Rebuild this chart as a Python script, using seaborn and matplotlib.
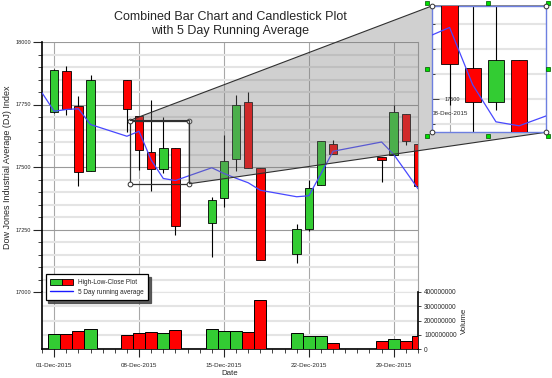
import numpy as np
import pandas as pd
import seaborn as sns
import matplotlib
matplotlib.use("Agg")
import matplotlib.pyplot as plt
import matplotlib.dates as mdates
from matplotlib.patches import Patch, Polygon, Rectangle
from matplotlib.lines import Line2D
from matplotlib.legend_handler import HandlerTuple
from matplotlib.ticker import MultipleLocator, FuncFormatter

# trading days, daily OHLC and volume
DATES = ["2015-12-01", "2015-12-02", "2015-12-03", "2015-12-04",
         "2015-12-07", "2015-12-08", "2015-12-09", "2015-12-10", "2015-12-11",
         "2015-12-14", "2015-12-15", "2015-12-16", "2015-12-17", "2015-12-18",
         "2015-12-21", "2015-12-22", "2015-12-23", "2015-12-24",
         "2015-12-28", "2015-12-29", "2015-12-30", "2015-12-31"]
OPEN = [17720, 17885, 17743, 17486, 17847, 17706, 17561, 17494, 17577,
        17277, 17377, 17533, 17759, 17497, 17154, 17254, 17427, 17594,
        17539, 17550, 17714, 17593]
HIGH = [17893, 17905, 17783, 17869, 17847, 17706, 17770, 17699, 17577,
        17381, 17630, 17790, 17799, 17497, 17274, 17450, 17606, 17610,
        17539, 17750, 17714, 17593]
LOW = [17718, 17710, 17426, 17486, 17639, 17487, 17403, 17477, 17230,
       17141, 17340, 17483, 17497, 17130, 17118, 17246, 17427, 17554,
       17439, 17550, 17587, 17426]
CLOSE = [17889, 17734, 17479, 17847, 17732, 17570, 17494, 17577, 17266,
         17370, 17526, 17750, 17497, 17130, 17253, 17417, 17606, 17554,
         17527, 17720, 17603, 17426]
VOLUME = [104e6, 104e6, 128e6, 137e6, 99e6, 113e6, 120e6, 109e6, 135e6,
          142e6, 123e6, 123e6, 116e6, 345e6, 113e6, 90e6, 90e6, 40e6,
          57e6, 69e6, 57e6, 92e6]

# 5 day running average
AVG_DATES = ["2015-11-30"] + DATES
AVG = [17797, 17723, 17730, 17733, 17670, 17623, 17643, 17528, 17454, 17446,
       17497, 17474, 17455, 17437, 17407, 17381, 17385, 17473, 17563,
       17600, 17550, 17482, 17413]

# zoomed window
ZOOM_X = ("2015-12-07 05:30", "2015-12-12 03:30")
ZOOM_Y = (17433, 17686)

GREEN = "#33cc33"
RED = "#ff0000"
BLUE = "#4848ff"
W, H = 552, 378

sns.set_style("white")
plt.rcParams["font.family"] = ["Liberation Sans", "DejaVu Sans"]

df = pd.DataFrame({"date": pd.to_datetime(DATES), "open": OPEN, "high": HIGH,
                   "low": LOW, "close": CLOSE, "volume": VOLUME})
df["x"] = mdates.date2num(df["date"])
df["up"] = df["close"] >= df["open"]
df["color"] = np.where(df["up"], GREEN, RED)
avg = pd.DataFrame({"x": mdates.date2num(pd.to_datetime(AVG_DATES)), "avg": AVG})


def draw_candles(ax):
    lo = np.minimum(df["open"], df["close"])
    hi = np.maximum(df["open"], df["close"])
    ax.vlines(df["x"], df["low"], df["high"], color="black", lw=0.8, zorder=2)
    ax.bar(df["x"], hi - lo, bottom=lo, width=0.7, color=df["color"],
           edgecolor="black", lw=0.6, zorder=3)
    sns.lineplot(data=avg, x="x", y="avg", ax=ax, color=BLUE, lw=0.9,
                 zorder=4, legend=False)


fig = plt.figure(figsize=(W / 100, H / 100), dpi=100)
ax = fig.add_axes([42 / W, 1 - 292 / H, 376 / W, 250 / H])
vax = fig.add_axes([42 / W, 1 - 349 / H, 376 / W, 57 / H], sharex=ax)

draw_candles(ax)
vax.bar(df["x"], df["volume"], width=1.0, color=df["color"],
        edgecolor="black", lw=0.7, zorder=3)

x0 = mdates.date2num(pd.Timestamp("2015-11-30"))
x1 = mdates.date2num(pd.Timestamp("2015-12-31"))
ax.set_xlim(x0, x1)
ax.set_ylim(17000, 18000)
vax.set_ylim(0, 4e8)

# price axis
ax.yaxis.set_major_locator(MultipleLocator(250))
ax.yaxis.set_minor_locator(MultipleLocator(50))
ax.set_axisbelow(True)
ax.grid(axis="y", which="minor", color="#e4e4e4", lw=1.5)
ax.grid(axis="y", which="major", color="#9a9a9a", lw=0.8)
ax.grid(axis="x", which="major", color="#a8a8a8", lw=0.8)
ax.tick_params(axis="y", which="major", length=6.5, width=0.8, pad=1.2,
               labelsize=4, left=True)
ax.tick_params(axis="y", which="minor", length=2.9, width=0.6, left=True)
ax.tick_params(axis="x", which="both", bottom=False, labelbottom=False)
for s in ["top", "bottom"]:
    ax.spines[s].set_visible(False)
ax.spines["right"].set_color("#a0a0a0")
ax.spines["right"].set_linewidth(0.8)
ax.spines["left"].set_color("black")
ax.spines["left"].set_linewidth(1.2)
ax.set_xlabel("")
ax.set_ylabel("Dow Jones Industrial Average (DJ) Index", fontsize=6.5, labelpad=3)

# volume axis
vax.xaxis.set_major_locator(mdates.WeekdayLocator(byweekday=mdates.TU))
vax.xaxis.set_minor_locator(mdates.DayLocator())
vax.xaxis.set_major_formatter(mdates.DateFormatter("%d-%b-%Y"))
vax.yaxis.tick_right()
vax.yaxis.set_label_position("right")
vax.yaxis.set_major_locator(MultipleLocator(1e8))
vax.yaxis.set_major_formatter(FuncFormatter(lambda v, p: f"{v:.0f}"))
vax.set_axisbelow(True)
vax.grid(axis="y", which="major", color="#e4e4e4", lw=1.5)
vax.grid(axis="x", which="major", color="#a8a8a8", lw=0.8)
vax.tick_params(axis="x", which="major", length=5.5, width=0.8, pad=4.5,
                labelsize=4.5, bottom=True)
vax.tick_params(axis="x", which="minor", length=3.1, width=0.6, bottom=True)
vax.tick_params(axis="y", length=2.4, width=0.6, pad=2, labelsize=4.7,
                right=True, left=False)
vax.spines["top"].set_visible(False)
for s in ["left", "bottom", "right"]:
    vax.spines[s].set_color("black")
    vax.spines[s].set_linewidth(1.2)
vax.set_xlabel("Date", fontsize=5.7, labelpad=1.5)
vax.set_ylabel("Volume", fontsize=5.7, labelpad=3)

# zoom rectangle on the main chart
zx0, zx1 = mdates.date2num(pd.to_datetime(list(ZOOM_X)))
zy0, zy1 = ZOOM_Y
ax.add_patch(Rectangle((zx0, zy0), zx1 - zx0, zy1 - zy0, fill=False,
                       ec="#303030", lw=0.9, zorder=5))
ax.plot([zx0, zx1, zx0, zx1], [zy0, zy0, zy1, zy1], "o", ms=3.4,
        mfc="white", mec="#303030", mew=0.7, zorder=6, clip_on=False)

# inset
iax = fig.add_axes([431.7 / W, 1 - 132.3 / H, 114 / W, 126.3 / H])
iax.set_zorder(3)
draw_candles(iax)
iax.set_xlim(zx0, zx1)
iax.set_ylim(zy0, zy1)
iax.set_xlabel("")
iax.set_ylabel("")
iax.xaxis.set_major_locator(mdates.WeekdayLocator(byweekday=mdates.TU))
iax.xaxis.set_major_formatter(mdates.DateFormatter("%d-%b-%Y"))
iax.yaxis.set_major_locator(MultipleLocator(250))
iax.yaxis.set_minor_locator(MultipleLocator(50))
iax.set_axisbelow(True)
iax.grid(axis="y", which="both", color="#e4e4e4", lw=1.5)
iax.grid(axis="x", which="major", color="#a8a8a8", lw=0.8)
iax.tick_params(axis="y", which="major", direction="in", length=4.8,
                width=0.6, pad=-9.4, labelsize=4, left=True)
iax.tick_params(axis="y", which="minor", direction="in", length=2.4,
                width=0.6, left=True)
iax.tick_params(axis="x", which="major", direction="in", length=0,
                pad=-15.5, labelsize=4.5, bottom=True)
for lab in iax.get_yticklabels():
    lab.set_ha("left")
for s in iax.spines.values():
    s.set_color("#6d7fe0")
    s.set_linewidth(1.0)

# shaded connector between zoom rectangle and inset
to_fig = fig.transFigure.inverted()
def data_to_fig(x, y):
    return to_fig.transform(ax.transData.transform((x, y)))

ib = iax.get_position()
poly_pts = [data_to_fig(zx0, zy1), (ib.x0, ib.y1), (ib.x1, ib.y1),
            (ib.x1, ib.y0), data_to_fig(zx1, zy0), data_to_fig(zx1, zy1)]
fig.add_artist(Polygon(poly_pts, closed=True, transform=fig.transFigure,
                       facecolor=(0.48, 0.48, 0.48, 0.35), edgecolor="#303030",
                       lw=0.8, zorder=1))

# selection handles around the inset
fig.add_artist(Line2D([ib.x0, ib.x1, ib.x0, ib.x1], [ib.y0, ib.y0, ib.y1, ib.y1],
                      transform=fig.transFigure, ls="none", marker="o", ms=3.4,
                      mfc="white", mec="#303030", mew=0.7, zorder=7))
hx0, hx1 = ib.x0 - 5 / W, ib.x1 + 2.6 / W
hy0, hy1 = ib.y0 - 3.7 / H, ib.y1 + 3.3 / H
hxm, hym = (hx0 + hx1) / 2, (hy0 + hy1) / 2
fig.add_artist(Line2D([hx0, hxm, hx1, hx0, hx1, hx0, hxm, hx1],
                      [hy1, hy1, hy1, hym, hym, hy0, hy0, hy0],
                      transform=fig.transFigure, ls="none", marker="s", ms=3.1,
                      mfc="#00e000", mec="#005000", mew=0.5, zorder=6))

# legend
handles = [(Patch(facecolor=GREEN, edgecolor="black", lw=0.6),
            Patch(facecolor=RED, edgecolor="black", lw=0.6)),
           Line2D([], [], color="#1a1aff", lw=1.0)]
leg = vax.legend(handles, ["High-Low-Close Plot", "5 Day running average"],
                 handler_map={tuple: HandlerTuple(ndivide=None, pad=0.0)},
                 loc="upper left", bbox_to_anchor=(45.7 / W, 1 - 274.3 / H),
                 bbox_transform=fig.transFigure, borderaxespad=0, fontsize=4.7,
                 handlelength=3.5, handleheight=1.0, handletextpad=0.7,
                 labelspacing=0.4, borderpad=0.7, fancybox=False,
                 shadow={"color": "#4a4a4a", "alpha": 0.9},
                 framealpha=1, edgecolor="black")
leg.get_frame().set_linewidth(0.9)
leg.set_zorder(10)

fig.text(230 / W, 1 - 10.5 / H,
         "Combined Bar Chart and Candlestick Plot\nwith 5 Day Running Average",
         ha="center", va="top", fontsize=9, linespacing=1.3)

fig.savefig("out.png", dpi=100)
